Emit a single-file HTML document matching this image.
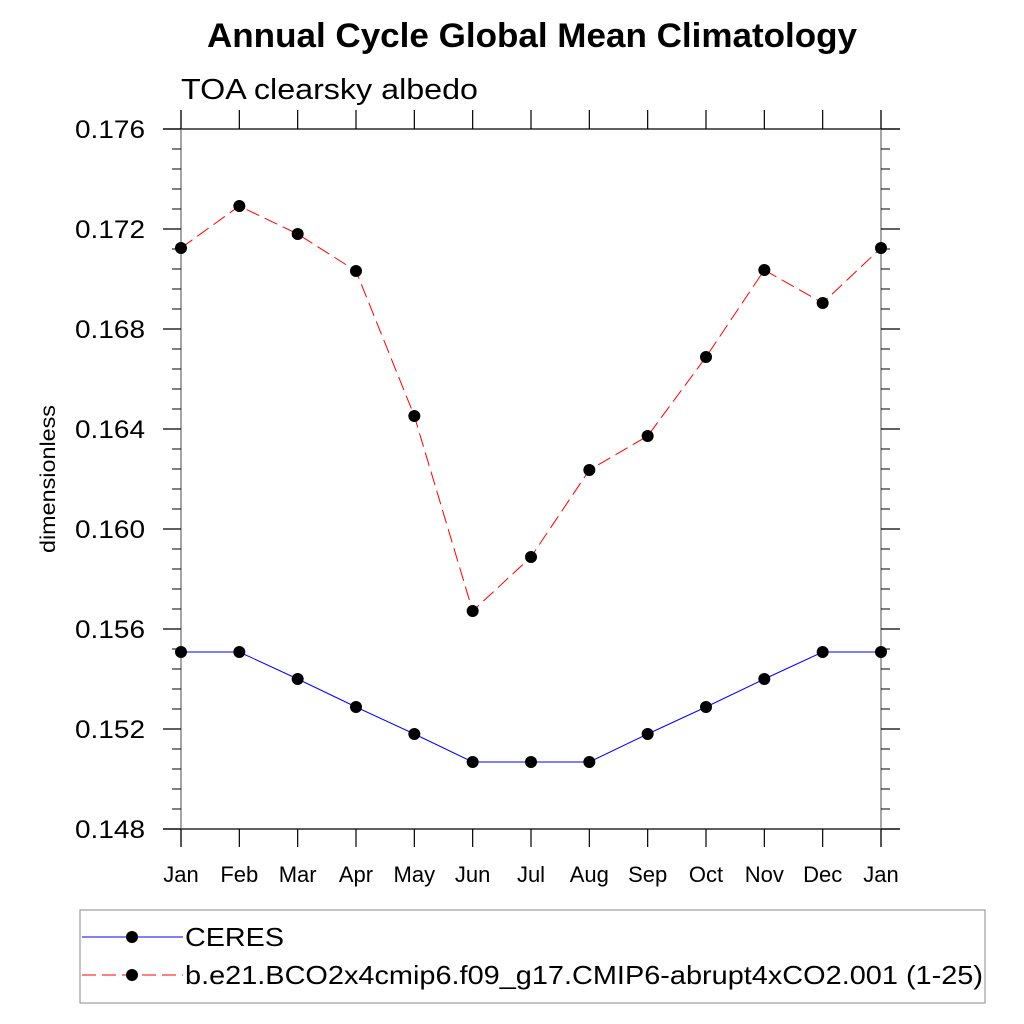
<!DOCTYPE html>
<html><head><meta charset="utf-8"><style>
html,body{margin:0;padding:0;background:#fff;}
svg{display:block;font-family:"Liberation Sans",sans-serif;}
</style></head><body>
<svg id="chart" width="1024" height="1024" viewBox="0 0 1024 1024">
<text x="207" y="47" font-size="34" font-weight="bold" textLength="650" lengthAdjust="spacingAndGlyphs">Annual Cycle Global Mean Climatology</text>
<text x="181" y="99" font-size="29" textLength="297" lengthAdjust="spacingAndGlyphs">TOA clearsky albedo</text>
<text transform="translate(55,479) rotate(-90)" x="-74" y="0" font-size="21" textLength="148" lengthAdjust="spacingAndGlyphs">dimensionless</text>
<g id="axes"></g>
<g id="series"></g>
<rect x="80" y="910" width="905" height="93" fill="none" stroke="#888" stroke-width="1"/>
<g>
<line x1="82" y1="937" x2="183" y2="937" stroke="#0000ff" stroke-width="1"/>
<circle cx="132" cy="937" r="6" fill="#000"/>
<text x="185" y="946" font-size="26" textLength="99" lengthAdjust="spacingAndGlyphs">CERES</text>
</g>
<g>
<line x1="82" y1="975" x2="183" y2="975" stroke="#ff0000" stroke-width="1" stroke-dasharray="14,6"/>
<circle cx="132" cy="975" r="6" fill="#000"/>
<text x="185" y="984" font-size="26" textLength="798" lengthAdjust="spacingAndGlyphs">b.e21.BCO2x4cmip6.f09_g17.CMIP6-abrupt4xCO2.001 (1-25)</text>
</g>
</svg>
<script>
const months = ["Jan","Feb","Mar","Apr","May","Jun","Jul","Aug","Sep","Oct","Nov","Dec","Jan"];
const ceresValues = [0.15508,0.15508,0.1540,0.15288,0.1518,0.15068,0.15068,0.15068,0.1518,0.15288,0.1540,0.15508,0.15508];
const modelValues = [0.17124,0.17292,0.1718,0.17032,0.16452,0.15672,0.15888,0.16236,0.16372,0.16688,0.17036,0.16904,0.17124];
const yTicks = [0.148,0.152,0.156,0.160,0.164,0.168,0.172,0.176];
const yTickLabels = ["0.148","0.152","0.156","0.160","0.164","0.168","0.172","0.176"];

const NS="http://www.w3.org/2000/svg";
const X0=181,X1=881,Y0=829,Y1=129,YMIN=0.148,YMAX=0.176;
const xScale=i=>X0+(X1-X0)*i/(months.length-1);
const yScale=v=>Y0-(v-YMIN)/(YMAX-YMIN)*(Y0-Y1);
const axes=document.getElementById('axes');
const series=document.getElementById('series');
function mk(tag,attrs,parent){const e=document.createElementNS(NS,tag);for(const k in attrs)e.setAttribute(k,attrs[k]);parent.appendChild(e);return e;}

let e;
e=mk('line',{x1:163,y1:Y1,x2:900,y2:Y1,stroke:'#000','stroke-width':1.3},axes);


e=mk('line',{x1:163,y1:Y0,x2:900,y2:Y0,stroke:'#000','stroke-width':1.3},axes);


e=mk('line',{x1:X0,y1:110,x2:X0,y2:847,stroke:'#777','stroke-width':1.3},axes);


e=mk('line',{x1:X1,y1:110,x2:X1,y2:847,stroke:'#777','stroke-width':1.3},axes);



for(let v=YMIN; v<=YMAX+1e-9; v+=0.0008){
  const y=yScale(v);
  e=mk('line',{x1:172,y1:y,x2:X0,y2:y,stroke:'#000','stroke-width':1},axes);
  
  
  e=mk('line',{x1:X1,y1:y,x2:890,y2:y,stroke:'#000','stroke-width':1},axes);
  
  
}
yTicks.forEach((v,i)=>{
  const y=yScale(v);
  e=mk('line',{x1:163,y1:y,x2:X0,y2:y,stroke:'#000','stroke-width':1.3},axes);
  
  
  e=mk('line',{x1:X1,y1:y,x2:900,y2:y,stroke:'#000','stroke-width':1.3},axes);
  
  
  const t=mk('text',{x:75,y:y+9,'font-size':25,textLength:70,lengthAdjust:'spacingAndGlyphs'},axes);
  t.textContent=yTickLabels[i];
  
  
});
months.forEach((m,i)=>{
  const x=xScale(i);
  e=mk('line',{x1:x,y1:110,x2:x,y2:Y1,stroke:'#000','stroke-width':1.2},axes);
  
  
  e=mk('line',{x1:x,y1:Y0,x2:x,y2:847,stroke:'#000','stroke-width':1.2},axes);
  
  
  const t=mk('text',{x:x,y:882,'text-anchor':'middle','font-size':22},axes);
  t.textContent=m;
  
  
});

function drawSeries(vals,color,dash,name){
  const pts=vals.map((v,i)=>xScale(i)+','+yScale(v)).join(' ');
  const attrs={points:pts,fill:'none',stroke:color,'stroke-width':1};
  if(dash)attrs['stroke-dasharray']=dash;
  const pl=mk('polyline',attrs,series);
  
  
  vals.forEach((v,i)=>{
    const c=mk('circle',{cx:xScale(i),cy:yScale(v),r:6,fill:'#000'},series);
    
    
  });
}
drawSeries(ceresValues,'#0000ff',null,'ceres');
drawSeries(modelValues,'#ff0000','14,6','model');
</script>
</body></html>
